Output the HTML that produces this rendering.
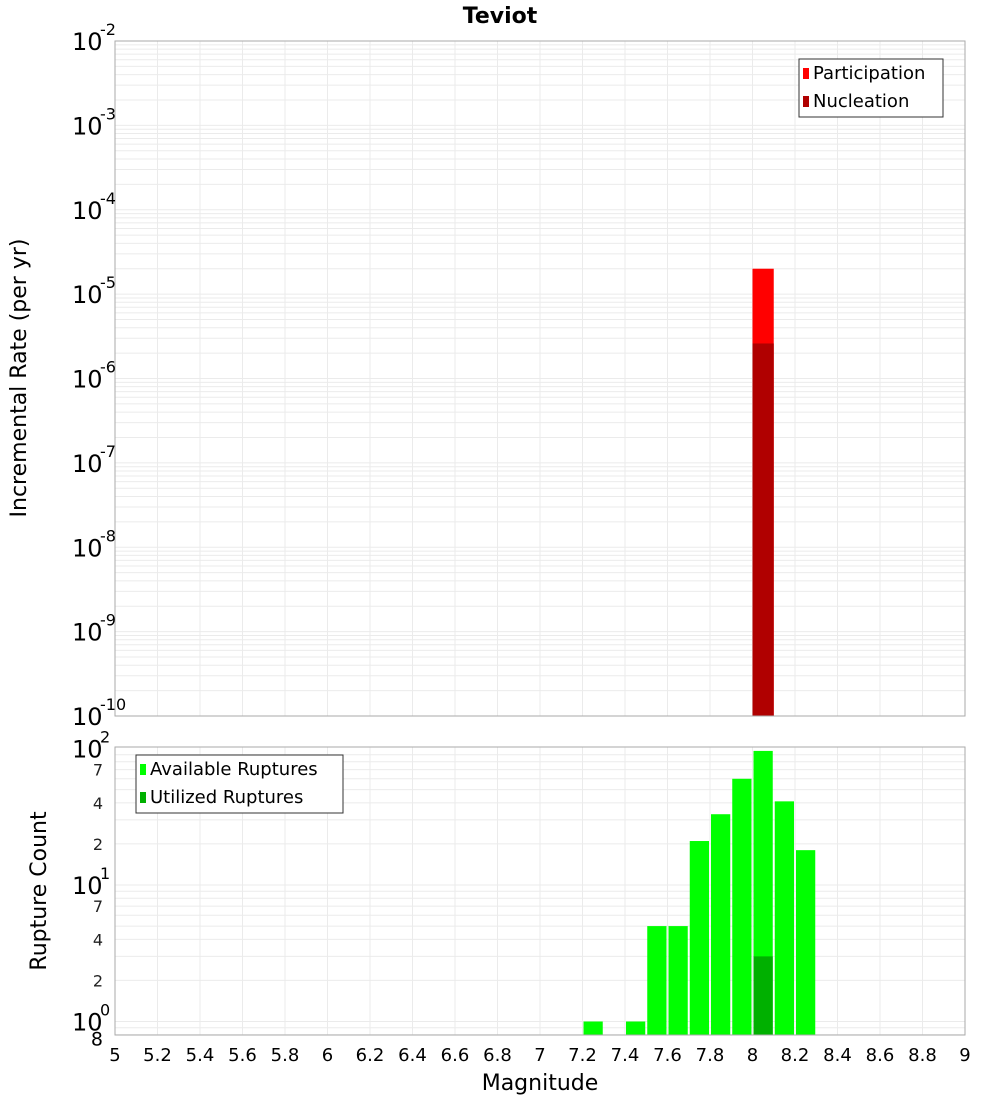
<!DOCTYPE html>
<html><head><meta charset="utf-8"><style>
body{margin:0;background:#fff;font-family:"Liberation Sans","DejaVu Sans",sans-serif;}
svg text{font-family:"DejaVu Sans","Liberation Sans",sans-serif;}
</style></head><body>
<svg id="c" width="1000" height="1100" xmlns="http://www.w3.org/2000/svg">
<text x="500" y="23" text-anchor="middle" font-size="22" font-weight="bold">Teviot</text>
<g id="topPlot"></g>
<g id="botPlot"></g>
<text transform="translate(26,378) rotate(-90)" text-anchor="middle" font-size="22">Incremental Rate (per yr)</text>
<text transform="translate(46,891) rotate(-90)" text-anchor="middle" font-size="22">Rupture Count</text>
<text x="540" y="1090" text-anchor="middle" font-size="22">Magnitude</text>
</svg>
<script>
const binStarts=[7.2,7.4,7.5,7.6,7.7,7.8,7.9,8.0,8.1,8.2];
const available=[1,1,5,5,21,33,60,96,41,18];
const utilizedBins=[8.0];
const utilized=[3];
const rateBins=[8.0];
const participation=[2.0e-5];
const nucleation=[2.6e-6];
const xTicks=[5,5.2,5.4,5.6,5.8,6,6.2,6.4,6.6,6.8,7,7.2,7.4,7.6,7.8,8,8.2,8.4,8.6,8.8,9];
const topExps=[-10,-9,-8,-7,-6,-5,-4,-3,-2];
const botMinor=[2,4,7,20,40,70];

const NS="http://www.w3.org/2000/svg";
function mk(p,t,a){const e=document.createElementNS(NS,t);for(const k in a)e.setAttribute(k,a[k]);p.appendChild(e);return e;}
const L=115,R=965,BW=(R-L)/40;
const X=m=>L+(m-5)/4*(R-L);
const T0=41,T1=716;
const YT=v=>T1-(Math.log10(v)+10)/8*(T1-T0);
const B0=747,B1=1035,DEC=136.5,B10=1021.5;
const YB=v=>B10-Math.log10(v)*DEC;
const gTop=document.getElementById('topPlot'),gBot=document.getElementById('botPlot');

for(let e=-10;e<-2;e++)for(let k=1;k<10;k++){const y=YT(k*Math.pow(10,e));if(y<T0||y>T1)continue;
 const l=mk(gTop,'line',{x1:L,x2:R,y1:y,y2:y,stroke:'#ebebeb','stroke-width':1});
 
 }
for(let e=-1;e<2;e++)for(let k=1;k<10;k++){const y=YB(k*Math.pow(10,e));if(y<B0||y>B1)continue;
 const l=mk(gBot,'line',{x1:L,x2:R,y1:y,y2:y,stroke:'#ebebeb','stroke-width':1});
 
 }
xTicks.forEach(t=>{const x=X(t);
 [[gTop,T0,T1],[gBot,B0,B1]].forEach(([g,a,b])=>{const l=mk(g,'line',{x1:x,x2:x,y1:a,y2:b,stroke:'#ebebeb','stroke-width':1});
 
 });
 const tx=mk(gBot,'text',{x:x,y:1061,'text-anchor':'middle','font-size':18});tx.textContent=String(t);
 
 });

rateBins.forEach((b,i)=>{
 const r=mk(gTop,'rect',{x:X(b),y:YT(participation[i]),width:BW,height:T1-YT(participation[i]),fill:'#ff0000'});
 
 
 const n=mk(gTop,'rect',{x:X(b),y:YT(nucleation[i]),width:BW,height:T1-YT(nucleation[i]),fill:'#b00000'});
 
 });
binStarts.forEach((b,i)=>{
 const r=mk(gBot,'rect',{x:X(b)+1,y:YB(available[i]),width:BW-2,height:B1-YB(available[i]),fill:'#00ff00'});
 
 });
utilizedBins.forEach((b,i)=>{
 const r=mk(gBot,'rect',{x:X(b)+1,y:YB(utilized[i]),width:BW-2,height:B1-YB(utilized[i]),fill:'#00b000'});
 
 });

[[gTop,T0,T1],[gBot,B0,B1]].forEach(([g,a,b])=>{const f=mk(g,'rect',{x:L,y:a,width:R-L,height:b-a,fill:'none',stroke:'#aaa','stroke-width':1});
 
 });

topExps.forEach(e=>{const y=YT(Math.pow(10,e));
 const t=mk(gTop,'text',{x:72,y:y+9,'font-size':24});t.textContent='10';
 
 
 const s=mk(gTop,'text',{x:100,y:y-6,'font-size':16});s.textContent=String(e);
 
 });
[0,1,2].forEach(e=>{const y=YB(Math.pow(10,e));
 const t=mk(gBot,'text',{x:72,y:y+9,'font-size':24});t.textContent='10';
 
 
 const s=mk(gBot,'text',{x:100,y:y-6,'font-size':16});s.textContent=String(e);
 
 });
botMinor.forEach(v=>{const t=mk(gBot,'text',{x:103,y:YB(v)+6,'text-anchor':'end','font-size':16,fill:'#222'});t.textContent=String(v<10?v:v/10);
 
 });
{const t=mk(gBot,'text',{x:103,y:YB(0.8)+11,'text-anchor':'end','font-size':19});t.textContent='8';
 
 }

function legend(g,x,y,w,items,name){
 const lg=mk(g,'g',{});
 
 
 mk(lg,'rect',{x:x,y:y,width:w,height:58,fill:'#fff',stroke:'#333','stroke-width':1});
 items.forEach((it,i)=>{mk(lg,'rect',{x:x+4,y:y+9+i*28,width:6,height:11,fill:it[1]});
  const t=mk(lg,'text',{x:x+14,y:y+20+i*28,'font-size':18});t.textContent=it[0];
  
  });}
legend(gTop,799,59,144,[['Participation','#ff0000'],['Nucleation','#b00000']],'rate-legend');
legend(gBot,136,755,207,[['Available Ruptures','#00ff00'],['Utilized Ruptures','#00b000']],'count-legend');
</script>
</body></html>
